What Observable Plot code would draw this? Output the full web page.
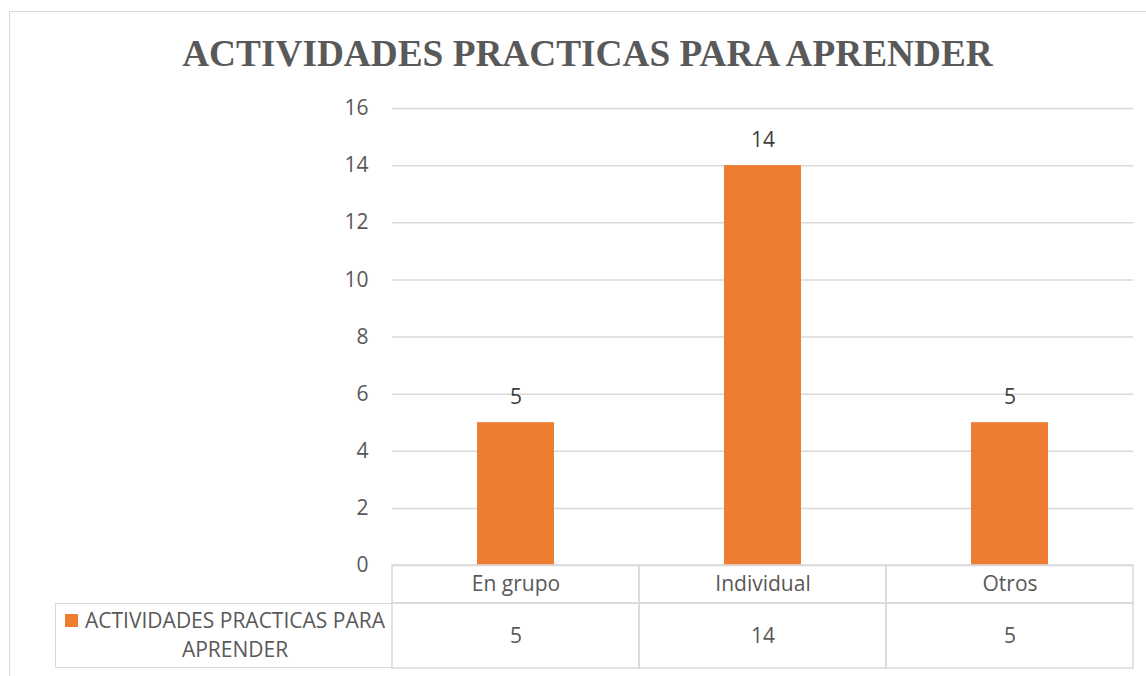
<!DOCTYPE html>
<html><head><meta charset="utf-8">
<script src="https://cdn.jsdelivr.net/npm/d3@7"></script>
<script src="https://cdn.jsdelivr.net/npm/@observablehq/plot@0.6"></script>
<style>
body{margin:0;background:#fff;}
#wrap{position:relative;width:1146px;height:676px;overflow:hidden;font-family:"Open Sans",sans-serif;}
#frame{position:absolute;left:9px;top:11px;width:1200px;height:700px;border-left:1.5px solid #d9d9d9;border-top:1.5px solid #d9d9d9;}
#title{position:absolute;left:9px;width:1157px;top:35px;text-align:center;font-weight:bold;font-size:37.3px;line-height:1;font-family:"Liberation Serif",serif;color:#595959;white-space:nowrap;}
#chart{position:absolute;left:0;top:90px;}
#legend{position:absolute;left:55px;top:603px;width:337px;height:65px;box-sizing:border-box;border:1.5px solid #d9d9d9;border-right:none;text-align:center;font-size:21px;line-height:29px;color:#595959;padding-top:2px;padding-left:22px;white-space:nowrap;}
#legend .sw{position:absolute;left:9px;top:10px;width:13px;height:13px;background:#ED7D31;}
</style></head>
<body>
<div id="wrap">
  <div id="frame"></div>
  <div id="title"></div>
  <div id="chart"></div>
  <div id="legend"></div>
</div>
<script>
const categories = ["En grupo", "Individual", "Otros"];
const values = [5, 14, 5];
const seriesName = "ACTIVIDADES PRACTICAS PARA APRENDER";
const chartTitle = "ACTIVIDADES PRACTICAS PARA APRENDER";
const yTicks = [0, 2, 4, 6, 8, 10, 12, 14, 16];

const data = categories.map((c, i) => ({category: c, value: values[i]}));

document.getElementById("title").textContent = chartTitle;
const lg = document.getElementById("legend");
lg.innerHTML = '<span class="sw"></span>' + "ACTIVIDADES PRACTICAS PARA<br>APRENDER";

const grid = "#d9d9d9";
const font = "'Open Sans', sans-serif";
const fs = 21;
const plot = Plot.plot({
  width: 1146,
  height: 586,
  marginLeft: 392,
  marginRight: 13,
  marginTop: 18,
  marginBottom: 111,
  style: {fontFamily: font, fontSize: fs + "px", color: "#595959", background: "transparent", overflow: "visible"},
  x: {domain: categories, padding: 0, axis: null},
  y: {domain: [0, 16], axis: null},
  marks: [
    Plot.gridY(yTicks, {stroke: grid, strokeOpacity: 1, strokeWidth: 1.5}),
    Plot.axisY(yTicks, {tickSize: 0, tickPadding: 24, fontSize: fs, fill: "#595959", label: null}),
    Plot.barY(data, {x: "category", y: "value", fill: "#ED7D31", insetLeft: 85, insetRight: 85}),
    Plot.text(data, {x: "category", y: "value", text: d => String(d.value), dy: -25, fill: "#404040", fontSize: fs}),
    Plot.barY(data, {x: "category", y1: 0, y2: 0, insetTop: 0, insetBottom: -38, fill: "none", stroke: grid, strokeWidth: 1.5}),
    Plot.barY(data, {x: "category", y1: 0, y2: 0, insetTop: 38, insetBottom: -103, fill: "none", stroke: grid, strokeWidth: 1.5}),
    Plot.text(data, {x: "category", y: 0, text: "category", dy: 19, fill: "#595959", fontSize: fs}),
    Plot.text(data, {x: "category", y: 0, text: d => String(d.value), dy: 71, fill: "#595959", fontSize: fs})
  ]
});
document.getElementById("chart").appendChild(plot);
</script>
</body></html>
